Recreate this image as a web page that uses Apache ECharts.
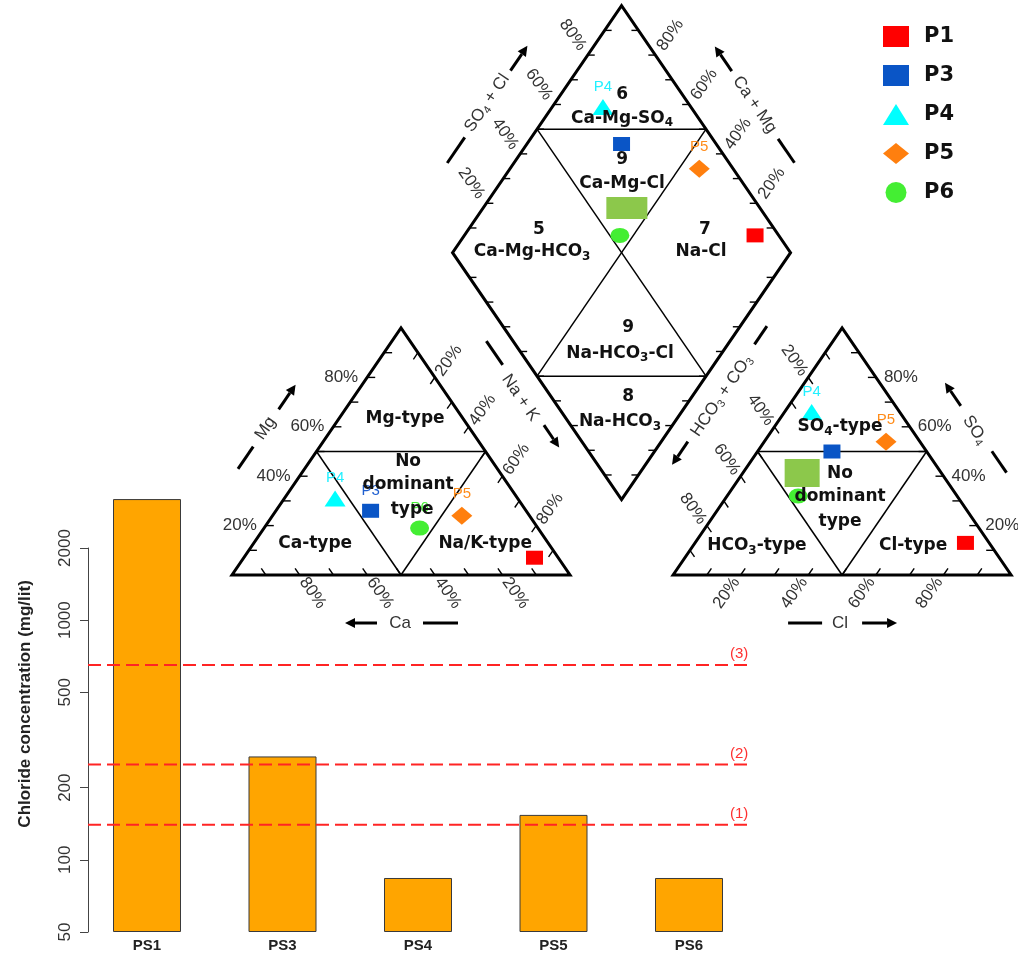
<!DOCTYPE html>
<html>
<head>
<meta charset="utf-8">
<script src="https://cdn.jsdelivr.net/npm/echarts@6/dist/echarts.min.js"></script>
<style>
  html, body { margin: 0; padding: 0; background: #fff; }
  #chart { width: 1018px; height: 953px; }
</style>
</head>
<body>
<div id="chart"></div>
<script>
// ---- Chloride concentration per well (mg/lit) ----
const wells = ['PS1', 'PS3', 'PS4', 'PS5', 'PS6'];
const chloride = [3200, 270, 84, 154, 84];
const limitValues = [140, 250, 650];
const limitLabels = ['(1)', '(2)', '(3)'];
const yTicks = [50, 100, 200, 500, 1000, 2000];

// ---- Piper samples: ionic composition (% of meq) ----
const samples = ['P1', 'P3', 'P4', 'P5', 'P6'];
const ca   = [7, 46, 54, 20, 35];
const mg   = [7, 26, 31, 24, 19];
const naK  = [86, 28, 15, 56, 46];
const hco3 = [7, 28, 26, 10, 47];
const so4  = [13, 50, 66, 54, 32];
const cl   = [80, 22, 8, 36, 21];
const pctTicks = [20, 40, 60, 80];

// ---- page layout ----
const W = 1018, HT = 953;
const BAR = { left: 79.25, width: 677.5, bottom: 21, axisLeft: 88, axisTop: 548, yMin: 50, yMax: 4000, axisMax: 2000 };
const barBottomPx = HT - BAR.bottom;
const barTop = barBottomPx - (barBottomPx - BAR.axisTop) *
  Math.log10(BAR.yMax / BAR.yMin) / Math.log10(BAR.axisMax / BAR.yMin);
const LIMIT_X = [(BAR.axisLeft - BAR.left) / BAR.width, 1 - (BAR.axisLeft - BAR.left) / BAR.width];

// Piper coordinate system: unit-side triangles, mapped onto the page
const PIPER = { x0: 232, y0: 575, sx: 338, sy: 285.2 };
const H3 = Math.sqrt(3) / 2;
const GAP = 0.305;
const OX = 1 + GAP;
const D0 = [1 + GAP / 2, GAP * H3];
const TL = { A: [0, 0], B: [1, 0], C: [0.5, H3] };
const TR = { A: [OX, 0], B: [OX + 1, 0], C: [OX + 0.5, H3] };
const DM = { B: D0, L: [D0[0] - 0.5, D0[1] + H3], R: [D0[0] + 0.5, D0[1] + H3], T: [D0[0], D0[1] + 2 * H3] };

const lerp = (a, b, t) => [a[0] + (b[0] - a[0]) * t, a[1] + (b[1] - a[1]) * t];
const unit = (a, b) => { const dx = b[0] - a[0], dy = b[1] - a[1], l = Math.hypot(dx, dy); return [dx / l, dy / l]; };

// composition -> piper plane
function cationXY(i) { const m = mg[i] / 100, n = naK[i] / 100; return [n + m / 2, m * H3]; }
function anionXY(i) { const s = so4[i] / 100, c = cl[i] / 100; return [OX + c + s / 2, s * H3]; }
function diamondXY(i) {
  const s = (so4[i] + cl[i]) / 100, c = (ca[i] + mg[i]) / 100;
  return [D0[0] + (s - c) / 2, D0[1] + (s + c) * H3];
}

const sampleStyle = {
  P1: { symbol: 'rect', size: [17, 14], color: '#FF0000', label: '#FF0000' },
  P3: { symbol: 'rect', size: [17, 14], color: '#0A55C6', label: '#1F5FD0' },
  P4: { symbol: 'triangle', size: [21, 16], color: '#00FFFF', label: '#22F0FF' },
  P5: { symbol: 'diamond', size: [21, 18], color: '#FF7F0E', label: '#FF8C1A' },
  P6: { symbol: 'circle', size: [19, 15], color: '#44EE33', label: '#44EE33' }
};

const RICH_THIN = { s: { fontSize: 11, lineHeight: 12, verticalAlign: 'bottom', fill: '#333', fontFamily: 'Liberation Sans' } };
const RICH_BOLD = { s: { fontSize: 12, lineHeight: 12, fontWeight: 'bold', verticalAlign: 'bottom', fill: '#111', fontFamily: 'DejaVu Sans' } };

function makeText(p, str, rot, o) {
  o = o || {};
  return {
    type: 'text', x: p[0], y: p[1], rotation: (rot || 0) * Math.PI / 180,
    style: {
      text: str, fill: o.fill || '#333', fontFamily: o.family || 'Liberation Sans',
      fontSize: o.size || 17, fontWeight: o.weight || 'normal',
      align: o.align || 'center', verticalAlign: 'middle', lineHeight: o.lh || 20,
      rich: o.rich || RICH_THIN
    }
  };
}

// region names inside the piper plots (piper-plane positions)
const regionLabels = [
  { p: [1.154, 1.683], t: '6' }, { p: [1.154, 1.602], t: 'Ca-Mg-SO{s|4}' },
  { p: [1.154, 1.455], t: '9' }, { p: [1.154, 1.371], t: 'Ca-Mg-Cl' },
  { p: [0.908, 1.210], t: '5' }, { p: [0.888, 1.133], t: 'Ca-Mg-HCO{s|3}' },
  { p: [1.399, 1.210], t: '7' }, { p: [1.388, 1.133], t: 'Na-Cl' },
  { p: [1.172, 0.866], t: '9' }, { p: [1.148, 0.778], t: 'Na-HCO{s|3}-Cl' },
  { p: [1.172, 0.624], t: '8' }, { p: [1.148, 0.537], t: 'Na-HCO{s|3}' },
  { p: [0.512, 0.547], t: 'Mg-type' }, { p: [0.521, 0.396], t: 'No' },
  { p: [0.521, 0.316], t: 'dominant' }, { p: [0.533, 0.228], t: 'type' },
  { p: [0.246, 0.109], t: 'Ca-type' }, { p: [0.749, 0.109], t: 'Na/K-type' },
  { p: [1.799, 0.519], t: 'SO{s|4}-type' }, { p: [1.799, 0.354], t: 'No' },
  { p: [1.799, 0.274], t: 'dominant' }, { p: [1.799, 0.186], t: 'type' },
  { p: [1.553, 0.102], t: 'HCO{s|3}-type' }, { p: [2.015, 0.102], t: 'Cl-type' }
];

function renderFrame(params, api) {
  const c = p => api.coord(p);
  const kids = [];
  const seg = (a, b, w) => kids.push({ type: 'line', shape: { x1: a[0], y1: a[1], x2: b[0], y2: b[1] }, style: { stroke: '#000', lineWidth: w } });
  const outline = pts => kids.push({ type: 'polygon', shape: { points: pts.map(c) }, style: { fill: 'none', stroke: '#000', lineWidth: 3, lineJoin: 'miter' } });
  const ticks = (P0, P1, dir, len) => {
    for (let k = 1; k < 10; k++) { const p = c(lerp(P0, P1, k / 10)); seg(p, [p[0] + dir[0] * len, p[1] + dir[1] * len], 1.4); }
  };
  const pdir = (P0, P1) => unit(c(P0), c(P1));
  const text = (p, str, rot, o) => kids.push(makeText(p, str, rot, o));
  const edge = (P0, P1, inside) => {
    const p0 = c(P0), p1 = c(P1), q = c(inside);
    const len = Math.hypot(p1[0] - p0[0], p1[1] - p0[1]);
    const d = [(p1[0] - p0[0]) / len, (p1[1] - p0[1]) / len];
    let n = [d[1], -d[0]];
    const mx = (p0[0] + p1[0]) / 2 - q[0], my = (p0[1] + p1[1]) / 2 - q[1];
    if (n[0] * mx + n[1] * my < 0) n = [-n[0], -n[1]];
    return { len, at: (s, o) => [p0[0] + d[0] * s + n[0] * o, p0[1] + d[1] * s + n[1] * o] };
  };
  const arrow = (a, b) => {
    const u = unit(a, b), hl = 10, hw = 5;
    const base = [b[0] - u[0] * hl, b[1] - u[1] * hl];
    seg(a, base, 3);
    kids.push({ type: 'polygon', shape: { points: [b, [base[0] - u[1] * hw, base[1] + u[0] * hw], [base[0] + u[1] * hw, base[1] - u[0] * hw]] }, style: { fill: '#000' } });
  };
  const title = (e, sT, oT, str, rot, dash, arr, oL) => {
    text(e.at(sT, oT), str, rot, { size: 17 });
    seg(e.at(dash[0], oL), e.at(dash[1], oL), 3);
    arrow(e.at(arr[0], oL), e.at(arr[1], oL));
  };

  const cL = [0.5, H3 / 3], cR = [OX + 0.5, H3 / 3], cD = [D0[0], D0[1] + H3];

  // outlines
  outline([TL.A, TL.B, TL.C]);
  outline([TR.A, TR.B, TR.C]);
  outline([DM.B, DM.R, DM.T, DM.L]);

  // inner subdivision lines
  [TL, TR].forEach(t => {
    const mAC = c(lerp(t.A, t.C, 0.5)), mBC = c(lerp(t.B, t.C, 0.5)), mAB = c(lerp(t.A, t.B, 0.5));
    seg(mAC, mBC, 1.5); seg(mAC, mAB, 1.5); seg(mBC, mAB, 1.5);
  });
  const mLT = c(lerp(DM.L, DM.T, 0.5)), mRT = c(lerp(DM.R, DM.T, 0.5));
  const mLB = c(lerp(DM.L, DM.B, 0.5)), mRB = c(lerp(DM.R, DM.B, 0.5));
  seg(mLT, mRT, 1.5); seg(mLB, mRB, 1.5); seg(mLT, mRB, 1.5); seg(mRT, mLB, 1.5);

  // tick marks
  ticks(TL.A, TL.C, [1, 0], 8);
  ticks(TL.A, TL.B, pdir(TL.B, TL.C), 8);
  ticks(TL.B, TL.C, pdir(TL.C, TL.A), 8);
  ticks(TR.B, TR.C, [-1, 0], 8);
  ticks(TR.A, TR.B, pdir(TR.A, TR.C), 8);
  ticks(TR.A, TR.C, pdir(TR.C, TR.B), 8);
  ticks(DM.L, DM.T, [1, 0], 7);
  ticks(DM.R, DM.T, [-1, 0], 7);
  ticks(DM.L, DM.B, [1, 0], 7);
  ticks(DM.R, DM.B, [-1, 0], 7);

  // percentage labels
  const eLR = edge(TL.C, TL.B, cL), eRL = edge(TR.C, TR.A, cR);
  const eUL = edge(DM.L, DM.T, cD), eUR = edge(DM.R, DM.T, cD);
  pctTicks.forEach(v => {
    const f = v / 100, s = v + '%';
    const pm = c(lerp(TL.A, TL.C, f));
    text([pm[0] - 9, pm[1]], s, 0, { align: 'right' });
    const ps = c(lerp(TR.B, TR.C, f));
    text([ps[0] + 8, ps[1]], s, 0, { align: 'left' });
    const pc = c([1 - f, 0]);
    text([pc[0] + 13, pc[1] + 18], s, -55);
    const pl = c([OX + f, 0]);
    text([pl[0] - 14, pl[1] + 18], s, 55);
    text(eLR.at(f * eLR.len - 6, 21), s, 55);
    text(eRL.at(f * eRL.len - 6, 21), s, -55);
    text(eUL.at(f * eUL.len + 8, 23.7), s, -55);
    text(eUR.at(f * eUR.len + 8, 23.7), s, 55);
  });

  // axis titles with dash and arrow
  title(edge(TL.A, TL.C, cL), 140, 55, 'Mg', 55.5, [91, 118], [163, 193], 55);
  title(edge(TR.B, TR.C, cR), 140, 52, 'SO{s|4}', -55.5, [87, 113], [168, 196], 54);
  title(edge(TL.B, TL.A, cL), 170, 48, 'Ca', 0, [112, 147], [193, 225], 48);
  title(edge(TR.A, TR.B, cR), 167, 48, 'Cl', 0, [115, 149], [189, 224], 48);
  title(eUL, 143, 56, 'SO{s|4} + Cl', 55.7, [71, 102], [183, 213], 55);
  title(eUR, 142.5, 54, 'Ca + Mg', -55.7, [72, 101], [183, 213], 54);
  title(edge(DM.L, DM.B, cD), 158, 26, 'Na + K', -55.4, [92, 121], [194, 221], 22);
  title(edge(DM.R, DM.B, cD), 157, 24, 'HCO{s|3} + CO{s|3}', 55.4, [74, 96], [214, 242], 22);

  return { type: 'group', children: kids };
}

function renderRegions(params, api) {
  return {
    type: 'group',
    children: regionLabels.map(r => makeText(api.coord(r.p), r.t, 0,
      { size: 17, weight: 'bold', family: 'DejaVu Sans', fill: '#111', rich: RICH_BOLD, lh: 22 }))
  };
}

// label covers on the P6 point in the diamond and the anion triangle
const coverDiamond = { show: true, formatter: ' ', backgroundColor: '#8CC84B', width: 41, height: 22, padding: 0, offset: [7, -4] };
const coverAnion = { show: true, formatter: ' ', backgroundColor: '#8CC84B', width: 35, height: 28, padding: 0, offset: [4, 3.5] };

const sampleSeries = samples.map((name, i) => {
  const st = sampleStyle[name];
  let data = [cationXY(i), diamondXY(i), anionXY(i)];
  if (name === 'P6') {
    data = [{ value: data[0] }, { value: data[1], label: coverDiamond }, { value: data[2], label: coverAnion }];
  } else if (name === 'P3') {
    data = [{ value: data[0] }, { value: data[1], label: { show: false } }, { value: data[2], label: { show: false } }];
  }
  return {
    type: 'scatter', name, xAxisIndex: 3, yAxisIndex: 2, silent: true, z: 3,
    symbol: st.symbol, symbolSize: st.size,
    itemStyle: { color: st.color, opacity: 1 },
    label: {
      show: name !== 'P1', position: 'top', distance: 5, formatter: name,
      color: st.label, fontFamily: 'Liberation Sans', fontSize: 15
    },
    data
  };
});

const limitSeries = limitValues.map((v, k) => ({
  type: 'line', xAxisIndex: 1, yAxisIndex: 0, silent: true, z: 4,
  data: [[LIMIT_X[0], v], [LIMIT_X[1], v]],
  symbol: 'none',
  lineStyle: { color: '#FF2424', width: 2, type: [13, 6] },
  endLabel: {
    show: true, formatter: limitLabels[k], color: '#FF3030',
    fontFamily: 'Liberation Sans Narrow, Liberation Sans', fontSize: 15, offset: [-26, -11]
  }
}));

const chart = echarts.init(document.getElementById('chart'), null, { renderer: 'canvas' });
chart.setOption({
  animation: false,
  backgroundColor: '#ffffff',
  legend: {
    data: samples, orient: 'vertical', left: 878, top: 21,
    itemWidth: 26, itemHeight: 21, itemGap: 18, selectedMode: false,
    textStyle: { fontFamily: 'DejaVu Sans', fontWeight: 'bold', fontSize: 21, color: '#111', padding: [0, 0, 0, 10] }
  },
  grid: [
    { left: BAR.left, width: BAR.width, top: barTop, bottom: BAR.bottom },
    { left: BAR.axisLeft, width: 10, top: BAR.axisTop, bottom: BAR.bottom },
    { left: 0, top: 0, width: W, height: HT }
  ],
  xAxis: [
    {
      gridIndex: 0, type: 'category', data: wells,
      axisLine: { show: false }, axisTick: { show: false },
      axisLabel: { fontFamily: 'Liberation Sans Narrow, Liberation Sans', fontWeight: 'bold', fontSize: 15, color: '#222', margin: 6 }
    },
    { gridIndex: 0, type: 'value', min: 0, max: 1, show: false },
    { gridIndex: 1, type: 'value', min: 0, max: 1, show: false },
    { gridIndex: 2, type: 'value', min: -PIPER.x0 / PIPER.sx, max: (W - PIPER.x0) / PIPER.sx, show: false }
  ],
  yAxis: [
    {
      gridIndex: 0, type: 'log', logBase: 10, min: BAR.yMin, max: BAR.yMax, startValue: BAR.yMin,
      axisLine: { show: false }, axisTick: { show: false }, axisLabel: { show: false }, splitLine: { show: false },
      name: 'Chloride concentration (mg/lit)', nameLocation: 'middle', nameGap: 45, nameRotate: 90,
      nameTextStyle: { fontFamily: 'Liberation Sans', fontWeight: 'bold', fontSize: 17, color: '#222' }
    },
    {
      gridIndex: 1, type: 'value', min: Math.log10(BAR.yMin), max: Math.log10(BAR.axisMax),
      axisLine: { show: true, lineStyle: { color: '#444', width: 1 } },
      axisTick: { show: true, length: 8, customValues: yTicks.map(Math.log10), lineStyle: { color: '#444' } },
      axisLabel: {
        customValues: yTicks.map(Math.log10), rotate: 90, margin: 14,
        fontFamily: 'Liberation Sans', fontSize: 17, color: '#333',
        formatter: v => String(Math.round(Math.pow(10, v)))
      },
      splitLine: { show: false }
    },
    { gridIndex: 2, type: 'value', min: -(HT - PIPER.y0) / PIPER.sy, max: PIPER.y0 / PIPER.sy, show: false }
  ],
  series: [
    {
      type: 'bar', name: 'Chloride', xAxisIndex: 0, yAxisIndex: 0, data: chloride,
      barWidth: 68, clip: true, silent: true,
      itemStyle: { color: '#FFA500', borderColor: '#3a3a3a', borderWidth: 1 }
    },
    ...limitSeries,
    { type: 'custom', xAxisIndex: 3, yAxisIndex: 2, data: [[0, 0]], silent: true, z: 2, renderItem: renderFrame },
    ...sampleSeries,
    { type: 'custom', xAxisIndex: 3, yAxisIndex: 2, data: [[0, 0]], silent: true, z: 5, renderItem: renderRegions }
  ]
});
</script>
</body>
</html>
